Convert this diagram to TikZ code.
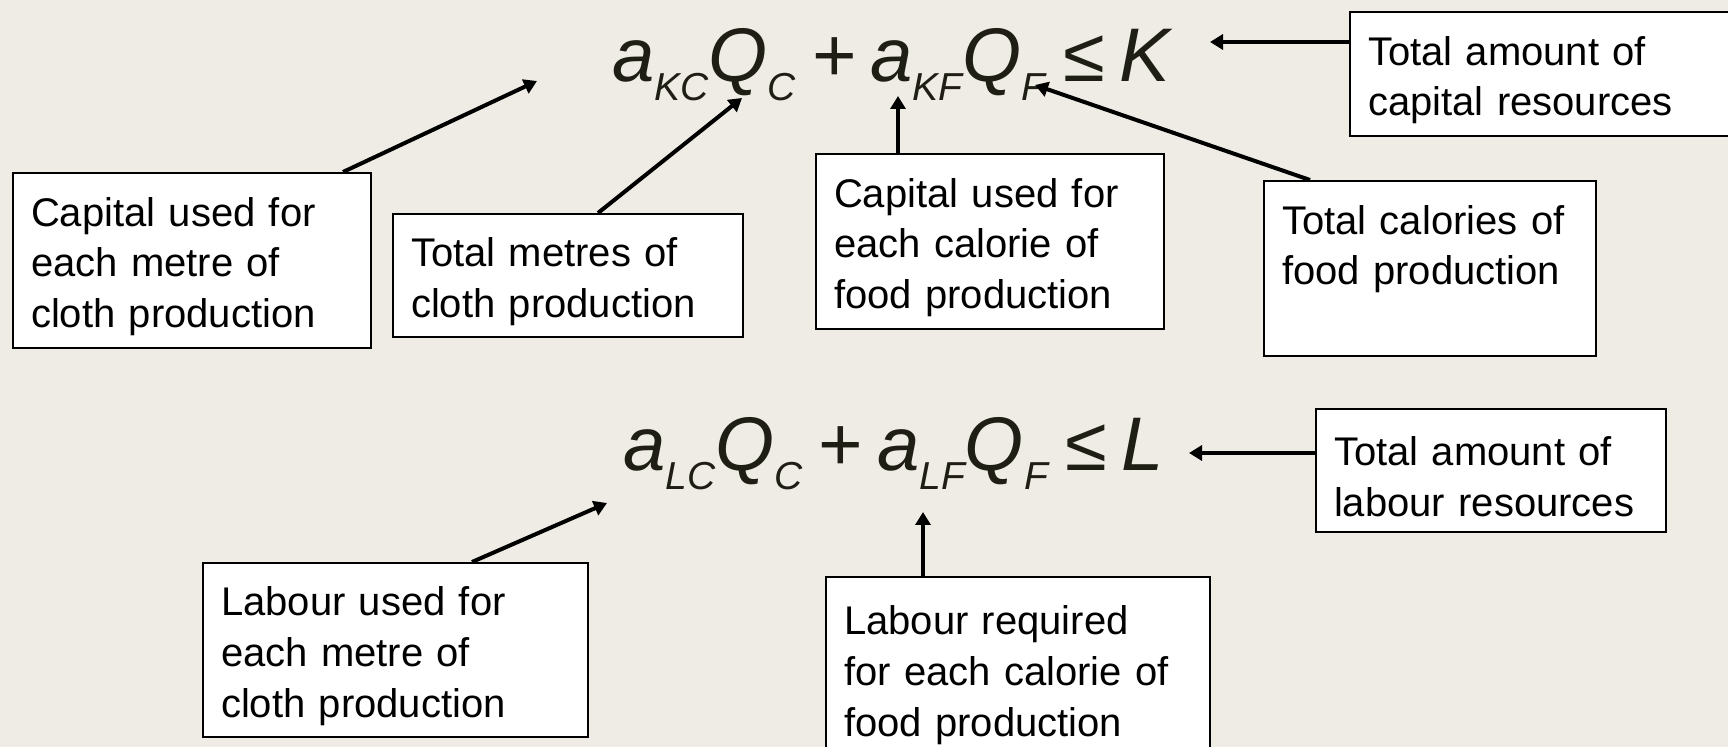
\documentclass[tikz,border=0pt]{standalone}
\usepackage{fontspec}
\setmainfont{Liberation Sans}
\usetikzlibrary{arrows.meta}
\definecolor{slidebg}{HTML}{EEECE4}
\definecolor{eqink}{HTML}{1E1E14}
\newcommand{\boxfont}{\fontsize{20pt}{25.3pt}\selectfont}
\newcommand{\eqfont}{\fontsize{38pt}{40pt}\selectfont\itshape}
\newcommand{\lowsub}[1]{\raisebox{-9.5pt}{\fontsize{19.5pt}{19.5pt}\selectfont #1}}
\newcommand{\eqgap}{\hspace{7.5pt}}
\begin{document}
\begin{tikzpicture}[x=0.5pt,y=-0.5pt,
  callout/.style={draw,line width=1.1pt,fill=white,anchor=north west,align=left,
    inner xsep=9pt,inner ysep=2pt,text height=20.5pt,font=\boxfont},
  pointer/.style={line width=2pt,-{Triangle[length=6.5pt,width=7.5pt]}},
  eqn/.style={anchor=base west,inner sep=0pt,text=eqink,font=\eqfont}]
\fill[slidebg] (0,0) rectangle (1728,747);
\useasboundingbox (0,0) rectangle (1728,747);
% the two constraints
\node[eqn] (eqK) at (612,82) {a\lowsub{KC}Q\lowsub{C}\eqgap+\eqgap a\lowsub{KF}Q\lowsub{F}\hspace{9pt}{\upshape ≤}\hspace{7pt}K};
\node[eqn] (eqL) at (623,471) {a\lowsub{LC}Q\lowsub{C}\eqgap+\eqgap a\lowsub{LF}Q\lowsub{F}\hspace{9pt}{\upshape ≤}\hspace{7pt}L};
% where the arrows point
\coordinate (ptKC) at (537,81);
\coordinate (ptQC) at (742,98);
\coordinate (ptKF) at (898,96);
\coordinate (ptQF) at (1035,85);
\coordinate (ptK) at (1210,42);
\coordinate (ptL) at (1189,453);
\coordinate (ptLC) at (607,503);
\coordinate (ptLF) at (923,512);
% capital boxes
\node[callout,text width=161pt,minimum height=87.5pt] (boxKC) at (12,172) {Capital used for\\each metre of\\cloth production};
\node[callout,text width=157pt,minimum height=61.5pt] (boxQC) at (392,213) {Total metres of\\cloth production};
\node[callout,text width=156pt,minimum height=87.5pt] (boxKF) at (815,153) {Capital used for\\each calorie of\\food production};
\node[callout,text width=148pt,minimum height=87.5pt,text depth=55pt] (boxQF) at (1263,180) {Total calories of\\food production};
\node[callout,text width=174pt,minimum height=62pt] (boxK) at (1349,11) {Total amount of\\capital resources};
% labour boxes
\node[callout,text width=157pt,minimum height=61.5pt] (boxL) at (1315,408) {Total amount of\\labour resources};
\node[callout,text width=174.5pt,minimum height=87pt] (boxLC) at (202,562) {Labour used for\\each metre of\\cloth production};
\node[callout,text width=174pt,minimum height=92pt] (boxLF) at (825,576) {Labour required\\for each calorie of\\food production};
% arrows
\draw[pointer] ([xshift=165.5pt]boxKC.north west) -- (ptKC);
\draw[pointer] ([xshift=103pt]boxQC.north west) -- (ptQC);
\draw[pointer] ([xshift=41.5pt]boxKF.north west) -- (ptKF);
\draw[pointer] ([xshift=23.5pt]boxQF.north west) -- (ptQF);
\draw[pointer] ([yshift=-15.5pt]boxK.north west) -- (ptK);
\draw[pointer] ([yshift=-22.5pt]boxL.north west) -- (ptL);
\draw[pointer] ([xshift=135pt]boxLC.north west) -- (ptLC);
\draw[pointer] ([xshift=49pt]boxLF.north west) -- (ptLF);
\end{tikzpicture}
\end{document}
